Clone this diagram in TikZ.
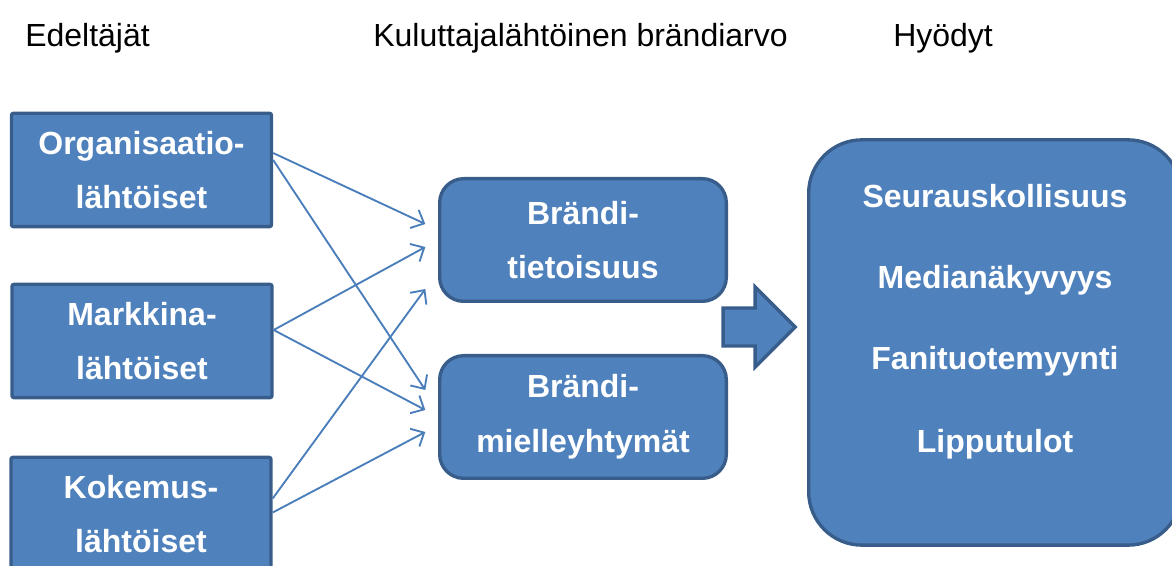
\documentclass[tikz,border=0pt]{standalone}
\usepackage{fontspec}
\setmainfont{Liberation Sans}
\usetikzlibrary{arrows.meta, shapes.arrows}
\definecolor{boxblue}{HTML}{4F81BD}
\definecolor{boxline}{HTML}{385D8A}
\definecolor{linkblue}{HTML}{4A7EBB}
\tikzset{
        otsikko/.style={anchor=base west, inner sep=0pt, font=\fontsize{24}{29}\selectfont},
        lahto/.style={rectangle, rounded corners=1.5pt, draw=boxline, fill=boxblue, line width=2.5pt, text=white, inner sep=0pt,
          font=\fontsize{24}{41}\selectfont\bfseries, align=center, minimum width=195pt, minimum height=85pt},
        brandi/.style={lahto, rounded corners=18pt, minimum width=215pt, minimum height=92pt},
        hyotyboksi/.style={lahto, rounded corners=40pt, minimum width=279.5pt, minimum height=304pt},
        hyoty/.style={anchor=base, inner sep=0pt, text=white, font=\fontsize{24}{29}\selectfont\bfseries},
        isonuoli/.style={single arrow, draw=boxline, fill=boxblue, line width=2.5pt, inner xsep=0pt, inner ysep=13pt,
          minimum height=54pt, single arrow head extend=15.75pt},
        yhteys/.style={draw=linkblue, line width=1.4pt, -{Straight Barb[length=8pt, width=15pt]}}
          }
\begin{document}
\begin{tikzpicture}[x=0.75pt, y=-0.75pt]
        \useasboundingbox (0,0) rectangle (1172,566);
        % otsikot
        \node[otsikko] (edeltajat) at (25,46.5) {Edeltäjät};
        \node[otsikko] (arvo) at (373,46.5) {Kuluttajalähtöinen brändiarvo};
        \node[otsikko] (hyodytotsikko) at (893,46.5) {Hyödyt};
        % edeltajat
        \node[lahto] (organisaatio) at (141.5,170) {Organisaatio-\\lähtöiset};
        \node[lahto] (markkina) at (142,341) {Markkina-\\lähtöiset};
        \node[lahto] (kokemus) at (141,514) {Kokemus-\\lähtöiset};
        % brandiarvo
        \node[brandi] (tietoisuus) at (583,240) {Brändi-\\tietoisuus};
        \node[brandi] (mielleyhtymat) at (583,417) {Brändi-\\mielleyhtymät};
        % hyodyt
        \node[isonuoli, anchor=tip] (nuoli) at (797.5,327) {};
        \node[hyotyboksi] (hyodyt) at (995,342.5) {};
        \foreach \txt/\y [count=\i] in {Seurauskollisuus/208, Medianäkyvyys/288.5, Fanituotemyynti/370, Lipputulot/453}
          \node[hyoty] (hyoty\i) at (995,\y) {\txt};
        % yhteydet
        \draw[yhteys] ([yshift=12.75pt]organisaatio.east) -- ([xshift=-9.5pt, yshift=12pt]tietoisuus.west);
        \draw[yhteys] ([yshift=7.5pt]organisaatio.east) -- ([xshift=-9.5pt, yshift=20.25pt]mielleyhtymat.west);
        \draw[yhteys] ([yshift=8.25pt]markkina.east) -- ([xshift=-9.5pt, yshift=-5.25pt]tietoisuus.west);
        \draw[yhteys] ([yshift=8.25pt]markkina.east) -- ([xshift=-9.5pt, yshift=5.25pt]mielleyhtymat.west);
        \draw[yhteys] ([yshift=11.6pt]kokemus.east) -- ([xshift=-9.5pt, yshift=-36.75pt]tietoisuus.west);
        \draw[yhteys] ([yshift=1.1pt]kokemus.east) -- ([xshift=-9.5pt, yshift=-11.25pt]mielleyhtymat.west);
      \end{tikzpicture}
\end{document}
